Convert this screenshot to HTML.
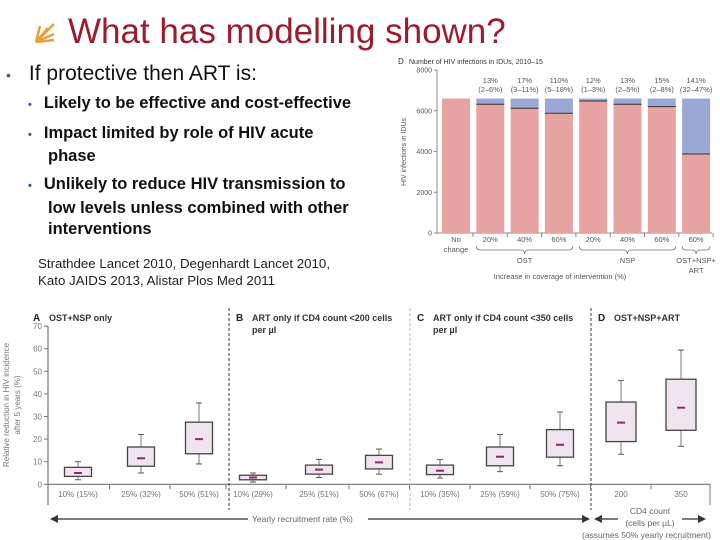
<!DOCTYPE html>
<html><head><meta charset="utf-8"><style>
body{margin:0;width:720px;height:540px;background:#fff;overflow:hidden;position:relative;font-family:"Liberation Sans",sans-serif}
.t{position:absolute;white-space:nowrap}
</style></head><body>
<div>
<svg class="t" style="left:32px;top:20px" width="26" height="24"><g stroke="#e8a040" stroke-width="2.5" fill="none"><path d="M4 22 L22 4"/><path d="M4 22 L8 6"/><path d="M4 22 L16 8"/><path d="M4 22 L22 14"/><path d="M4 22 L22 20"/></g></svg>
<div class="t" style="left:68px;top:12px;font-size:35px;color:#9b1c31">What has modelling shown?</div>
<div class="t" style="left:6px;top:62px;font-size:21px;color:#111"><span style="color:#3a5a9a;font-size:14px;margin-right:18px">•</span>If protective then ART is:</div>
<div class="t" style="left:28px;top:94px;font-size:16.5px;font-weight:bold;color:#111"><span style="color:#3a5a9a;font-size:11px;margin-right:12px">•</span>Likely to be effective and cost-effective</div>
<div class="t" style="left:28px;top:123px;font-size:16.5px;font-weight:bold;color:#111;line-height:21px"><span style="color:#3a5a9a;font-size:11px;margin-right:12px">•</span>Impact limited by role of HIV acute<br><span style="margin-left:20px">phase</span></div>
<div class="t" style="left:28px;top:174px;font-size:16.5px;font-weight:bold;color:#111;line-height:21.5px"><span style="color:#3a5a9a;font-size:11px;margin-right:12px">•</span>Unlikely to reduce HIV transmission to<br><span style="margin-left:20px">low levels unless combined with other</span><br><span style="margin-left:20px">interventions</span></div>
<div class="t" style="left:38px;top:255px;font-size:13.3px;color:#222;line-height:17px">Strathdee Lancet 2010, Degenhardt Lancet 2010,<br>Kato JAIDS 2013, Alistar Plos Med 2011</div>
</div>
<svg id="top" width="720" height="300" style="position:absolute;left:0;top:0"></svg>
<svg id="bot" width="720" height="540" style="position:absolute;left:0;top:0"></svg>
<script>
const topCats=["No\nchange","20%","40%","60%","20%","40%","60%","60%"];
const topTotal=[6600,6600,6600,6600,6600,6600,6600,6600];
const topRed=[6600,6320,6120,5880,6480,6320,6200,3880];
const topPct=["","13%","17%","110%","12%","13%","15%","141%"];
const topCI=["","(2–6%)","(3–11%)","(5–18%)","(1–3%)","(2–5%)","(2–8%)","(32–47%)"];
const topTicks=[0,2000,4000,6000,8000];

const botCats=["10% (15%)","25% (32%)","50% (51%)","10% (29%)","25% (51%)","50% (67%)","10% (35%)","25% (59%)","50% (75%)","200","350"];
const botQ1=[3.5,8,13.5,2,4.5,6.8,4.3,8.2,12,18.9,23.9];
const botQ3=[7.5,16.5,27.5,4,8.5,12.8,8.5,16.5,24.2,36.4,46.5];
const botMed=[5,11.5,20,3,6.5,9.7,6,12.2,17.5,27.3,33.9];
const botLo=[2,5,9,1,3,4.5,2.8,5.6,8.2,13.3,16.8];
const botHi=[10,22,36,5,11,15.6,11,22,32,46,59.4];
const botTicks=[0,10,20,30,40,50,60,70];

const NS="http://www.w3.org/2000/svg";
function mk(p,tag,a,txt){const e=document.createElementNS(NS,tag);for(const k in a)e.setAttribute(k,a[k]);if(txt!==undefined)e.textContent=txt;p.appendChild(e);return e;}
const F="Liberation Sans, sans-serif";
// top chart
const T=document.getElementById('top');
const ty=v=>233-v*163/8000;
const tx=i=>442+i*34.3;
mk(T,'text',{x:398,y:64,'font-size':8,'font-family':F,fill:'#333'},"D");
const tt=mk(T,'text',{x:409,y:64,'font-size':7,'font-family':F,fill:'#333'},"Number of HIV infections in IDUs, 2010–15");


mk(T,'line',{x1:437,y1:ty(8000),x2:437,y2:ty(0),stroke:'#888'});
mk(T,'line',{x1:437,y1:ty(0),x2:712,y2:ty(0),stroke:'#888'});
topTicks.forEach(v=>{mk(T,'line',{x1:434,y1:ty(v),x2:437,y2:ty(v),stroke:'#888'});
 const l=mk(T,'text',{x:432,y:ty(v)+2.5,'font-size':7,'text-anchor':'end','font-family':F,fill:'#555'},v);
 });
const yl=mk(T,'text',{transform:'translate(406,152) rotate(-90)','font-size':7,'text-anchor':'middle','font-family':F,fill:'#555'},"HIV infections in IDUs");

topCats.forEach((c,i)=>{const x=tx(i);
 const b=mk(T,'rect',{x:x,y:ty(topTotal[i]),width:28,height:ty(topRed[i])-ty(topTotal[i]),fill:'#9aa8d6'});
 
 const r=mk(T,'rect',{x:x,y:ty(topRed[i]),width:28,height:ty(0)-ty(topRed[i]),fill:'#e6a3a2'});
 
 if(i>0)mk(T,'line',{x1:x,y1:ty(topRed[i]),x2:x+28,y2:ty(topRed[i]),stroke:'#333','stroke-width':1});
 mk(T,'text',{x:x+14,y:83,'font-size':7.5,'text-anchor':'middle','font-family':F,fill:'#555'},topPct[i]);
 mk(T,'text',{x:x+14,y:92,'font-size':7.5,'text-anchor':'middle','font-family':F,fill:'#555'},topCI[i]);
 c.split("\n").forEach((s,k)=>{const l=mk(T,'text',{x:x+14,y:242+k*10,'font-size':7.5,'text-anchor':'middle','font-family':F,fill:'#555'},s);
  });
 mk(T,'line',{x1:x+31,y1:ty(0),x2:x+31,y2:ty(0)+4,stroke:'#888'});
});
function brace(x1,x2,y){const m=(x1+x2)/2;mk(T,'path',{d:`M${x1} ${y} q0 4 4 4 L${m-4} ${y+4} q4 0 4 4 q0 -4 4 -4 L${x2-4} ${y+4} q4 0 4 -4`,fill:'none',stroke:'#777','stroke-width':0.8});}
brace(tx(1),tx(3)+28,246);brace(tx(4),tx(6)+28,246);brace(tx(7),tx(7)+28,246);
mk(T,'text',{x:tx(2)+14,y:263,'font-size':7.5,'text-anchor':'middle','font-family':F,fill:'#555'},"OST");
mk(T,'text',{x:tx(5)+14,y:263,'font-size':7.5,'text-anchor':'middle','font-family':F,fill:'#555'},"NSP");
mk(T,'text',{x:tx(7)+14,y:263,'font-size':7.5,'text-anchor':'middle','font-family':F,fill:'#555'},"OST+NSP+");
mk(T,'text',{x:tx(7)+14,y:273,'font-size':7.5,'text-anchor':'middle','font-family':F,fill:'#555'},"ART");
const xt=mk(T,'text',{x:560,y:279,'font-size':7.5,'text-anchor':'middle','font-family':F,fill:'#555'},"Increase in coverage of intervention (%)");


// bottom chart
const B=document.getElementById('bot');
const by=v=>484.3-v*2.26;
const cx=[78,141,199,253,319,379,440,500,560,621,681];
mk(B,'line',{x1:48,y1:by(70),x2:48,y2:505,stroke:'#777','stroke-width':1.2});
mk(B,'line',{x1:48,y1:by(0),x2:710,y2:by(0),stroke:'#777','stroke-width':1.2});
botTicks.forEach(v=>{mk(B,'line',{x1:44,y1:by(v),x2:48,y2:by(v),stroke:'#777'});
 const l=mk(B,'text',{x:42,y:by(v)+3,'font-size':8,'text-anchor':'end','font-family':F,fill:'#777'},v);
 });
const yt=mk(B,'text',{transform:'translate(9,405) rotate(-90)','font-size':8,'text-anchor':'middle','font-family':F,fill:'#777'},"Relative reduction in HIV incidence");

mk(B,'text',{transform:'translate(20,405) rotate(-90)','font-size':8,'text-anchor':'middle','font-family':F,fill:'#777'},"after 5 years (%)");
[[229,'#333'],[410,'#bbb'],[591,'#333']].forEach(([x,c])=>mk(B,'line',{x1:x,y1:308,x2:x,y2:510,stroke:c,'stroke-dasharray':'3,2'}));
const panels=[[33,"A","OST+NSP only",""],[236,"B","ART only if CD4 count <200 cells","per µl"],[417,"C","ART only if CD4 count <350 cells","per µl"],[598,"D","OST+NSP+ART",""]];
panels.forEach(([x,l,a,b])=>{mk(B,'text',{x:x,y:321,'font-size':10,'font-weight':'bold','font-family':F,fill:'#222'},l);
 const p=mk(B,'text',{x:x+16,y:321,'font-size':9,'font-weight':'bold','font-family':F,fill:'#333'},a);
 
 if(b)mk(B,'text',{x:x+16,y:333,'font-size':9,'font-weight':'bold','font-family':F,fill:'#333'},b);});
botCats.forEach((c,i)=>{const x=cx[i];const w=i>=9?30:27;
 mk(B,'line',{x1:x,y1:by(botHi[i]),x2:x,y2:by(botLo[i]),stroke:'#777'});
 mk(B,'line',{x1:x-3,y1:by(botHi[i]),x2:x+3,y2:by(botHi[i]),stroke:'#555'});
 mk(B,'line',{x1:x-3,y1:by(botLo[i]),x2:x+3,y2:by(botLo[i]),stroke:'#555'});
 const r=mk(B,'rect',{x:x-w/2,y:by(botQ3[i]),width:w,height:by(botQ1[i])-by(botQ3[i]),fill:'#f0e4ef',stroke:'#444','stroke-width':1.3});
 
 mk(B,'line',{x1:x-4,y1:by(botMed[i]),x2:x+4,y2:by(botMed[i]),stroke:'#8a2a6e','stroke-width':2});
 const l=mk(B,'text',{x:x,y:497,'font-size':8,'text-anchor':'middle','font-family':F,fill:'#777'},c);
 
 if(i<10)mk(B,'line',{x1:(cx[i]+cx[i+1])/2,y1:by(0),x2:(cx[i]+cx[i+1])/2,y2:by(0)+5,stroke:'#777'});
});
mk(B,'line',{x1:710,y1:by(0),x2:710,y2:505,stroke:'#777'});
mk(B,'line',{x1:56,y1:519,x2:248,y2:519,stroke:'#555','stroke-width':1.5});
mk(B,'path',{d:'M50 519 L58 515 L58 523 Z',fill:'#333'});
const ax=mk(B,'text',{x:252,y:522,'font-size':8.5,'font-family':F,fill:'#666'},"Yearly recruitment rate (%)");

mk(B,'line',{x1:368,y1:519,x2:584,y2:519,stroke:'#555','stroke-width':1.5});
mk(B,'path',{d:'M590 519 L582 515 L582 523 Z',fill:'#333'});
mk(B,'path',{d:'M594 519 L602 515 L602 523 Z',fill:'#333'});
mk(B,'line',{x1:600,y1:519,x2:618,y2:519,stroke:'#555','stroke-width':1.5});
mk(B,'line',{x1:682,y1:519,x2:700,y2:519,stroke:'#555','stroke-width':1.5});
mk(B,'path',{d:'M706 519 L698 515 L698 523 Z',fill:'#333'});
mk(B,'text',{x:650,y:514,'font-size':8.5,'text-anchor':'middle','font-family':F,fill:'#666'},"CD4 count");
mk(B,'text',{x:650,y:526,'font-size':8.5,'text-anchor':'middle','font-family':F,fill:'#666'},"(cells per µL)");
mk(B,'text',{x:582,y:538,'font-size':8.5,'font-family':F,fill:'#666'},"(assumes 50% yearly recruitment)");
</script>
</body></html>
